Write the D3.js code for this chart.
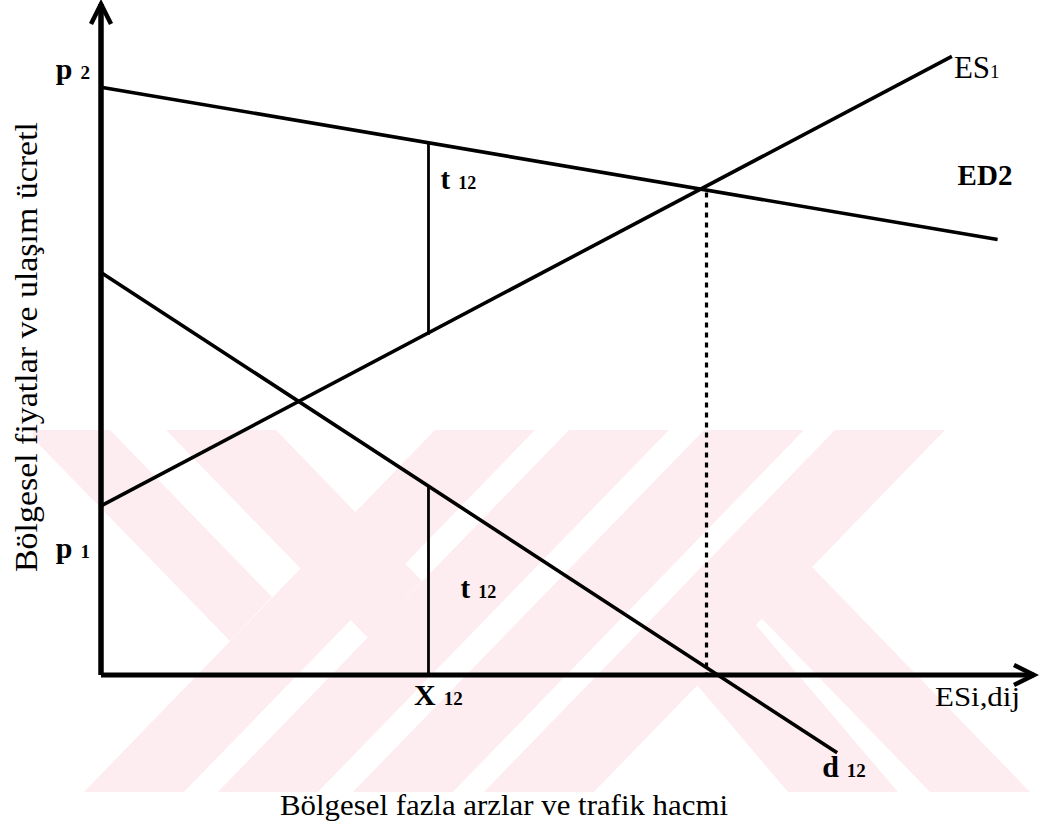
<!DOCTYPE html>
<html lang="tr">
<head>
<meta charset="utf-8" />
<title>Bölgesel fazla arzlar ve trafik hacmi</title>
<script src="https://cdn.jsdelivr.net/npm/d3@7"></script>
<style>
  body { margin: 0; background: #fff; }
  svg { display: block; }
  text { font-family: "Liberation Serif", "Times New Roman", serif; fill: #000; }
  .b { font-weight: bold; }
</style>
</head>
<body>
<div id="chart"></div>
<script>
var width = 1043, height = 834;

// curves, chart units (x 0..100, y 0..100)
var ed2 = [[0, 87.6], [96.1, 64.9]];
var es1 = [[0, 25.2], [91.2, 92.2]];
var d12 = [[0, 60.0], [78.9, -11.6]];

var x12 = 35.1;            // traded quantity
var tUpper = [79.3, 50.7]; // t12 gap between ED2 and ES1 at x12
var tLower = [28.1, 0];    // t12 under d12 at x12
var xEq = 64.9;            // ED2 = ES1
var eqTop = 71.9;

var yTicks = [18.3, 89.6];
var yTickLabels = [["p", "1"], ["p", "2"]];
var xTicks = [x12];
var xTickLabels = [["X", "12"]];

var xTitle = "Bölgesel fazla arzlar ve trafik hacmi";
var yTitle = "Bölgesel fiyatlar ve ulaşım ücretl";

var svg = d3.select("#chart").append("svg")
    .attr("width", width)
    .attr("height", height);

var x = d3.scaleLinear().domain([0, 100]).range([101, 1034]);
var y = d3.scaleLinear().domain([0, 100]).range([675, 4]);

// pale pink scan watermark behind everything
svg.append("clipPath").attr("id", "wmclip")
  .append("rect").attr("x", 33).attr("y", 430).attr("width", 1000).attr("height", 362);

var wm = svg.append("g").attr("clip-path", "url(#wmclip)").attr("fill", "#fdedf0");
var s = 0.97, wTop = 430, wBot = 792;
var upBands = [[435, 100], [569, 100], [704, 100], [835, 110]];
upBands.forEach(function(b) {
  var d = s * (wBot - wTop);
  wm.append("polygon").attr("points",
    [[b[0], wTop], [b[0] + b[1], wTop], [b[0] + b[1] - d, wBot], [b[0] - d, wBot]].join(" "));
});
var downBands = [
  [[25, 430], [110, 430], [272, 597], [230, 641]],
  [[166, 430], [276, 430], [422, 581], [368, 638]],
  [[757, 510], [707, 562], [930, 792], [1030, 792]],
  [[704, 564], [646, 625], [788, 792], [898, 792]]
];
downBands.forEach(function(p) {
  wm.append("polygon").attr("points", p.join(" "));
});

// arrow head
svg.append("defs").append("marker")
    .attr("id", "arrow")
    .attr("markerUnits", "userSpaceOnUse")
    .attr("markerWidth", 40).attr("markerHeight", 40)
    .attr("viewBox", "-30 -20 40 40")
    .attr("refX", 0).attr("refY", 0)
    .attr("orient", "auto")
  .append("path")
    .attr("d", "M-20,-10 L0,0 L-20,10")
    .attr("fill", "none")
    .attr("stroke", "#000")
    .attr("stroke-width", 4.5)
    .attr("stroke-linejoin", "miter");

var line = d3.line().x(function(d) { return x(d[0]); }).y(function(d) { return y(d[1]); });

// axes lines
svg.append("path").datum([[0, 0], [0, 100]])
    .attr("d", line).attr("stroke", "#000").attr("stroke-width", 5.5)
    .attr("fill", "none").attr("marker-end", "url(#arrow)");
svg.append("path").datum([[0, 0], [100, 0]])
    .attr("d", line).attr("stroke", "#000").attr("stroke-width", 5)
    .attr("fill", "none").attr("marker-end", "url(#arrow)");

// curves
[ed2, es1, d12].forEach(function(c) {
  svg.append("path").datum(c)
      .attr("d", line)
      .attr("fill", "none")
      .attr("stroke", "#000")
      .attr("stroke-width", 3.6);
});

// t12 verticals
[tUpper, tLower].forEach(function(t) {
  svg.append("line")
      .attr("x1", x(x12)).attr("x2", x(x12))
      .attr("y1", y(t[0])).attr("y2", y(t[1]))
      .attr("stroke", "#000").attr("stroke-width", 2.8);
});

// equilibrium dotted line
svg.append("line")
    .attr("x1", x(xEq)).attr("x2", x(xEq))
    .attr("y1", y(eqTop)).attr("y2", y(0))
    .attr("stroke", "#000").attr("stroke-width", 3.2)
    .attr("stroke-dasharray", "5,5");

function subLabel(sel, parts, big, small) {
  sel.text(null);
  sel.append("tspan").attr("font-size", big).text(parts[0]);
  sel.append("tspan").attr("font-size", small).attr("dx", 8).text(parts[1]);
}

// tick labels through d3 axes
var yAxis = svg.append("g")
    .attr("transform", "translate(" + x(0) + ",0)")
    .call(d3.axisLeft(y).tickValues(yTicks).tickSize(0).tickPadding(11));
yAxis.select(".domain").remove();
yAxis.selectAll(".tick text").each(function(d, i) {
  d3.select(this).attr("class", "b").attr("text-anchor", "end").attr("dy", "5");
  subLabel(d3.select(this), yTickLabels[i], 30, 19);
});

var xAxis = svg.append("g")
    .attr("transform", "translate(0," + y(0) + ")")
    .call(d3.axisBottom(x).tickValues(xTicks).tickSize(0).tickPadding(30));
xAxis.select(".domain").remove();
xAxis.selectAll(".tick text").each(function(d, i) {
  d3.select(this).attr("class", "b").attr("dy", "0").attr("text-anchor", "start").attr("dx", "-15");
  subLabel(d3.select(this), xTickLabels[i], 30, 19);
});

// curve and gap labels
function label(px, py, parts, big, small, bold) {
  var t = svg.append("text").attr("x", px).attr("y", py);
  if (bold) t.attr("class", "b");
  subLabel(t, parts, big, small);
  return t;
}
label(x(x12) + 12, y(tUpper[0]) + 46, ["t", "12"], 29, 18, true);
label(x(x12) + 32, y(tLower[0]) + 112, ["t", "12"], 29, 18, true);
label(x(d12[1][0]) - 15, y(d12[1][1]) + 24, ["d", "12"], 30, 19, true);

var es1Lbl = svg.append("text").attr("x", x(es1[1][0]) + 2).attr("y", y(es1[1][1]) + 22)
    .attr("font-size", 31);
es1Lbl.append("tspan").text("ES");
es1Lbl.append("tspan").attr("font-size", 19).text("1");

svg.append("text").attr("class", "b")
    .attr("x", x(ed2[1][0]) - 40).attr("y", y(ed2[1][1]) - 55)
    .attr("font-size", 29).text("ED2");

svg.append("text")
    .attr("x", x(100) - 99).attr("y", y(0) + 31)
    .attr("font-size", 28)
    .attr("textLength", 85).attr("lengthAdjust", "spacingAndGlyphs")
    .text("ESi,dij");

// axis titles
svg.append("text")
    .attr("x", 280).attr("y", 815)
    .attr("font-size", 29)
    .attr("textLength", 448).attr("lengthAdjust", "spacingAndGlyphs")
    .text(xTitle);

svg.append("text")
    .attr("transform", "translate(37,572) rotate(-90)")
    .attr("font-size", 32)
    .attr("textLength", 450).attr("lengthAdjust", "spacingAndGlyphs")
    .text(yTitle);
</script>
</body>
</html>
